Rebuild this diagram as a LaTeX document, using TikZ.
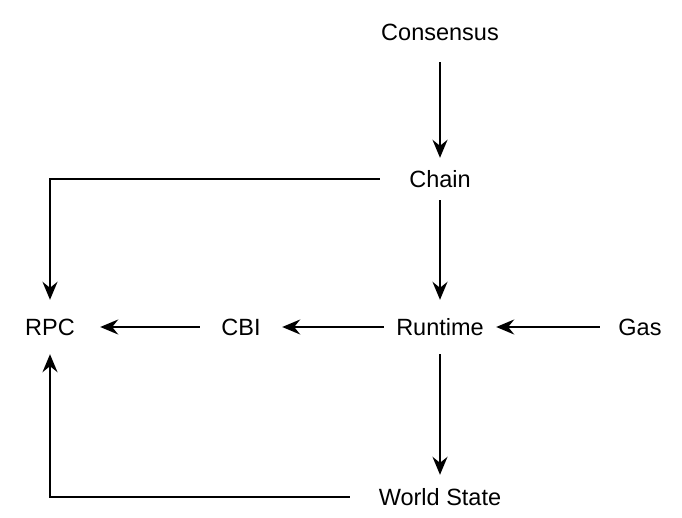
\documentclass[tikz,border=0pt]{standalone}
\usepackage{fontspec}
\setmainfont{Liberation Sans}
\usetikzlibrary{arrows.meta}
\begin{document}
\begin{tikzpicture}[x=1pt,y=-1pt,
  lbl/.style={inner sep=0pt, font=\fontsize{23.5}{28}\selectfont, text=black},
  conn/.style={line width=2pt, draw=black, -{Stealth[length=18pt,width=15pt,inset=6pt]}}]
\useasboundingbox[fill=white] (0,0) rectangle (682,518);
\node[lbl, minimum width=120pt, minimum height=60pt] (cons) at (440,32) {Consensus};
\node[lbl, minimum width=120pt, minimum height=42pt] (chain) at (440,179) {Chain};
\node[lbl, minimum width=100pt, minimum height=54pt] (rpc) at (50,327) {RPC};
\node[lbl, minimum width=82pt, minimum height=52pt] (cbi) at (241,327) {CBI};
\node[lbl, minimum width=112pt, minimum height=54pt] (run) at (440,327) {Runtime};
\node[lbl, minimum width=80pt, minimum height=52pt] (gas) at (640,327) {Gas};
\node[lbl, minimum width=180pt, minimum height=44pt] (ws) at (440,497) {World State};
\draw[conn] (cons) -- (chain);
\draw[conn] (chain) -- (run);
\draw[conn] (chain.west) -| (rpc.north);
\draw[conn] (cbi) -- (rpc);
\draw[conn] (run) -- (cbi);
\draw[conn] (gas) -- (run);
\draw[conn] (run) -- (ws);
\draw[conn] (ws.west) -| (rpc.south);
\end{tikzpicture}
\end{document}
